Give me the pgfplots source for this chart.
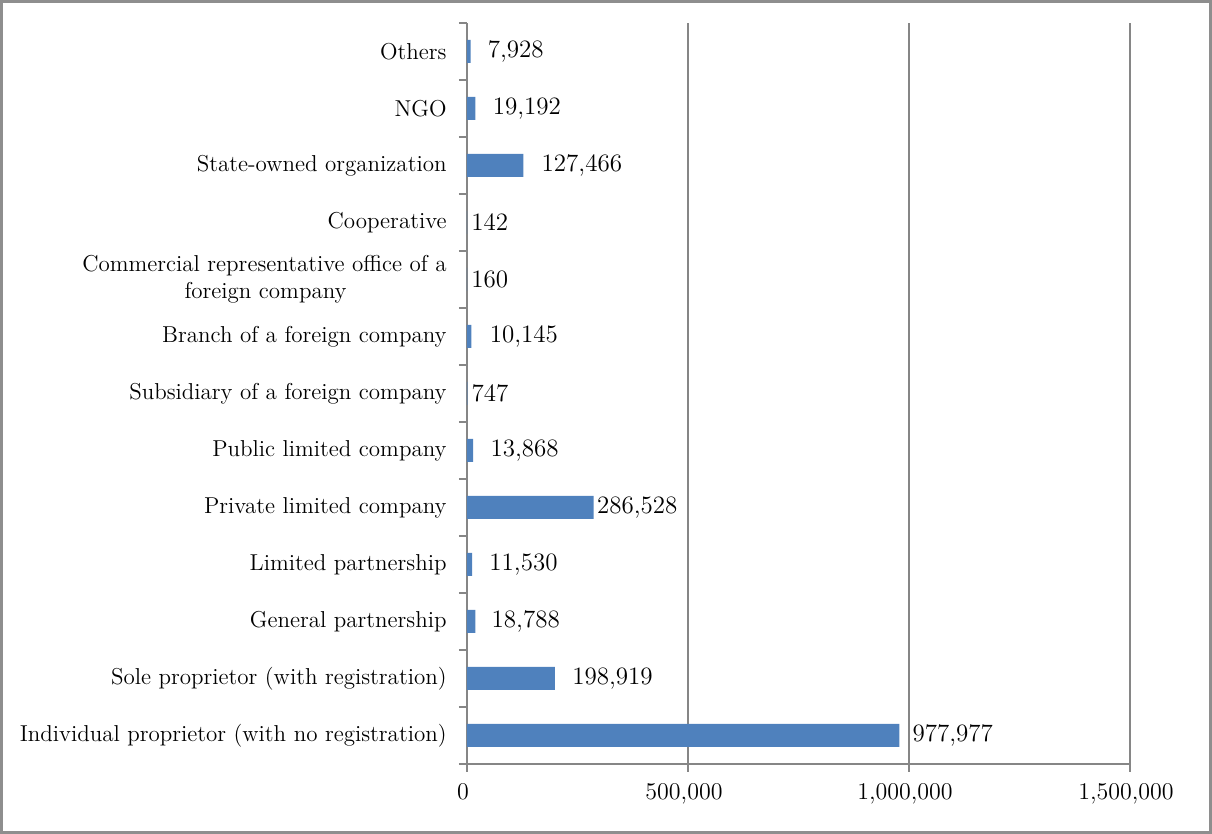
\documentclass[border=0pt]{standalone}
\usepackage{pgfplots}
\pgfplotsset{compat=1.18}
\usepackage{pgfplotstable}
\definecolor{barblue}{HTML}{4F81BD}
\definecolor{axgray}{HTML}{868686}
\definecolor{bordergray}{HTML}{8E8E8E}
\pgfplotstableread{
y x dx
0 977977 6.5
1 198919 8.5
2 18788 8
3 11530 8.5
4 286528 1.5
5 13868 8.5
6 747 2
7 10145 9
8 160 2
9 142 2
10 127466 9
11 19192 8.5
12 7928 8.5
}\datatable
\pgfkeys{/pgf/number format/.cd, fixed, precision=0, 1000 sep={,}, assume math mode=true}
\begin{document}
\begin{tikzpicture}
\useasboundingbox (0,0) rectangle (606pt,417pt);
\draw[bordergray, line width=1.2pt] (0.8pt,0.8pt) rectangle (605.2pt,416.2pt);
\begin{axis}[
  at={(233.5pt,35pt)}, anchor=south west,
  scale only axis, width=331.5pt, height=370.5pt,
  xmin=0, xmax=1500000, ymin=-0.5, ymax=12.5,
  axis x line*=bottom, axis y line*=left,
  axis line style={axgray, line width=1pt},
  xtick={0,500000,1000000,1500000},
  scaled x ticks=false,
  xmajorgrids, grid style={axgray, line width=1pt},
  tick align=outside,
  major tick length=4pt, minor tick length=4pt,
  major x tick style={axgray, line width=1pt},
  xticklabel style={font=\fontsize{12}{14}\selectfont, inner sep=0pt, xshift=-2pt, yshift=-5.5pt},
  ytick={0,...,12},
  yticklabels={
    Individual proprietor (with no registration),
    Sole proprietor (with registration),
    General partnership,
    Limited partnership,
    Private limited company,
    Public limited company,
    Subsidiary of a foreign company,
    Branch of a foreign company,
    {Commercial representative office of a\\foreign company\hspace*{50pt}},
    Cooperative,
    State-owned organization,
    NGO,
    Others},
  major y tick style={draw=none},
  minor ytick={-0.5,0.5,...,12.5},
  minor y tick style={axgray, line width=1pt},
  yticklabel style={font=\fontsize{11.5}{13.5}\selectfont, inner sep=0pt, xshift=-6pt, align=right},
  clip=false,
]
\addplot[xbar, bar width=11.5pt, fill=barblue, draw=none,
  nodes near coords, point meta=x,
  visualization depends on={\thisrow{dx}\as\dx},
  nodes near coords style={anchor=west, inner sep=0pt, xshift=\dx pt, font=\fontsize{12.5}{14}\selectfont, text=black},
] table[x=x, y=y] {\datatable};
\end{axis}
\end{tikzpicture}
\end{document}
